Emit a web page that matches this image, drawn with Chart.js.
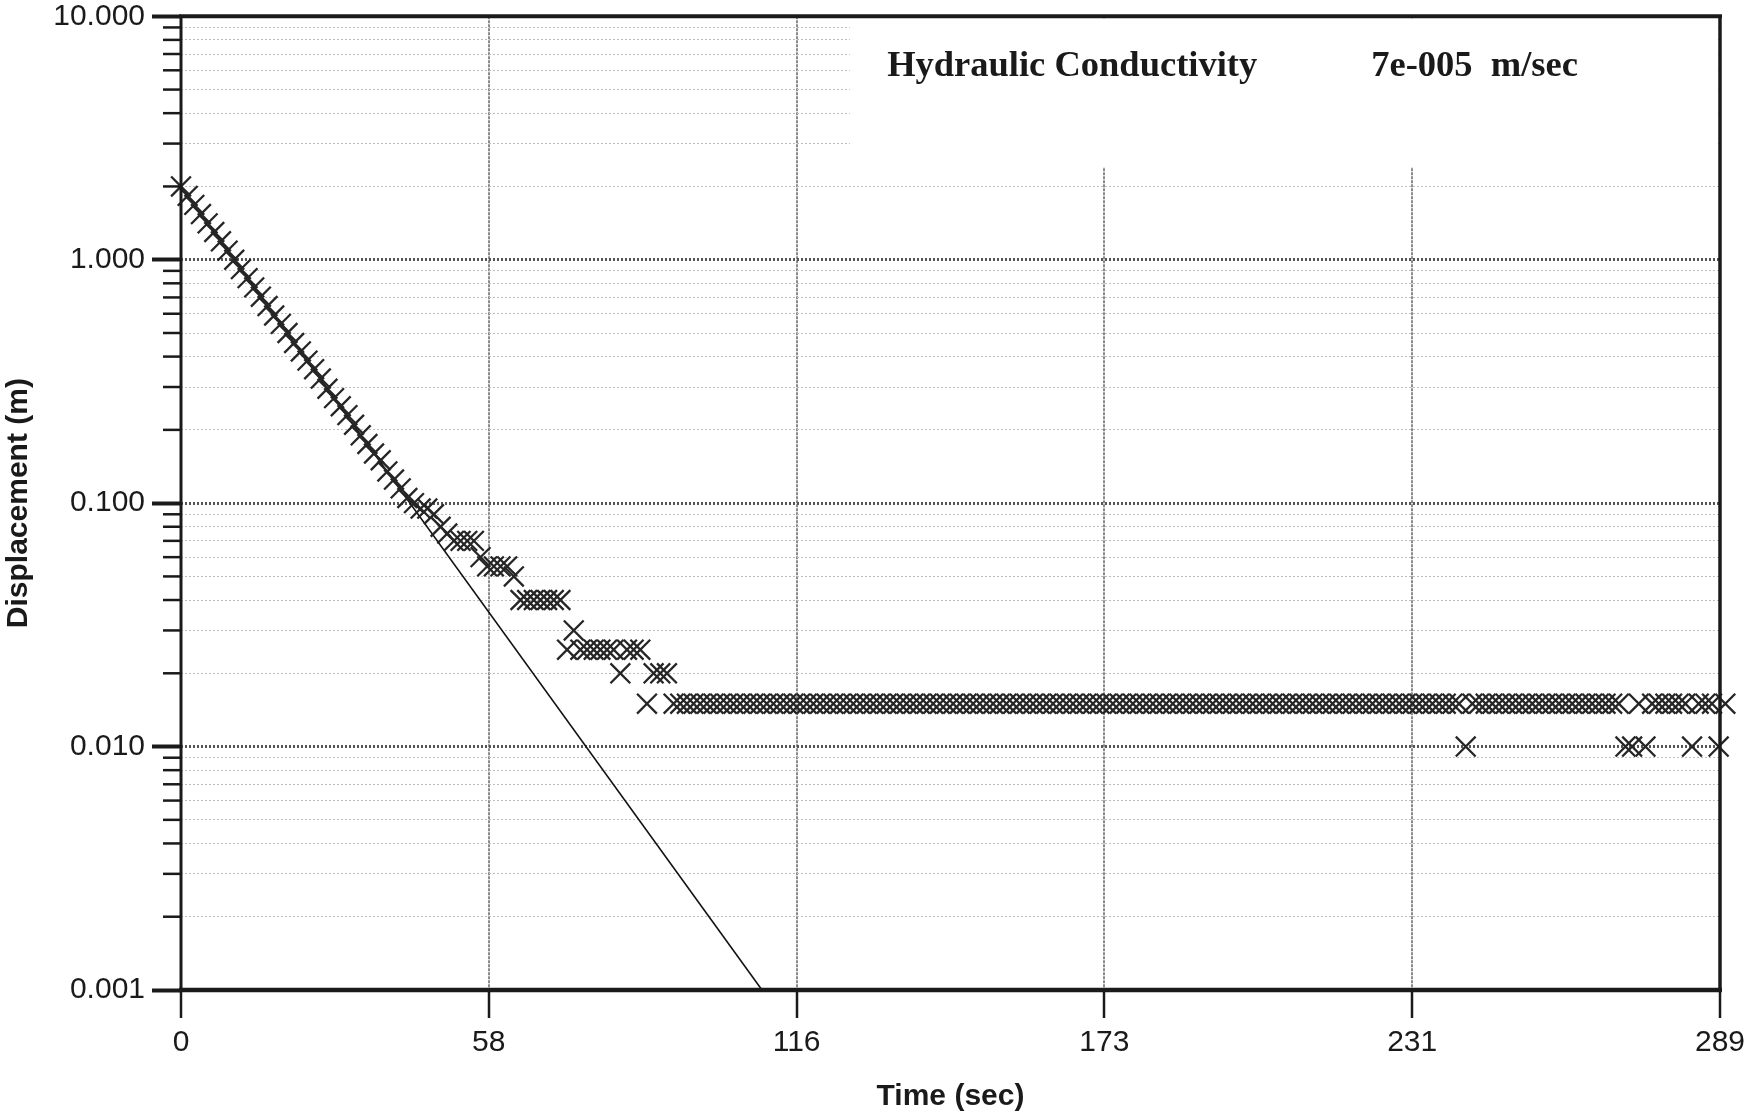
<!DOCTYPE html>
<html>
<head>
<meta charset="utf-8">
<title>Displacement vs Time</title>
<script src="https://cdn.jsdelivr.net/npm/chart.js@4.4.1/dist/chart.umd.min.js"></script>
<style>
  html, body { margin: 0; padding: 0; background: #fff; }
  canvas { display: block; }
</style>
</head>
<body>
<canvas id="chart" width="1752" height="1115"></canvas>
<script>
// logger readings, time in sec
const times = [
  0, 1.25, 2.5, 3.75, 5, 6.25, 7.5, 8.75, 10, 11.25, 12.5, 13.75, 15, 16.25, 17.5, 18.75,
  20, 21.25, 22.5, 23.75, 25, 26.25, 27.5, 28.75, 30, 31.25, 32.5, 33.75, 35, 36.25, 37.5, 38.75,
  40, 41.25, 42.5, 43.75, 45, 46.25, 47.5, 48.75, 50, 51.25, 52.5, 53.75, 55, 56.25, 57.5, 58.75,
  60, 61.25, 62.5, 63.75, 65, 66.25, 67.5, 68.75, 70, 71.25, 72.5, 73.75, 75, 76.25, 77.5, 78.75,
  80, 81.25, 82.5, 83.75, 85, 86.25, 87.5, 88.75, 90, 91.25, 92.5, 93.75, 95, 96.25, 97.5, 98.75,
  100, 101.25, 102.5, 103.75, 105, 106.25, 107.5, 108.75, 110, 111.25, 112.5, 113.75, 115, 116.25, 117.5, 118.75,
  120, 121.25, 122.5, 123.75, 125, 126.25, 127.5, 128.75, 130, 131.25, 132.5, 133.75, 135, 136.25, 137.5, 138.75,
  140, 141.25, 142.5, 143.75, 145, 146.25, 147.5, 148.75, 150, 151.25, 152.5, 153.75, 155, 156.25, 157.5, 158.75,
  160, 161.25, 162.5, 163.75, 165, 166.25, 167.5, 168.75, 170, 171.25, 172.5, 173.75, 175, 176.25, 177.5, 178.75,
  180, 181.25, 182.5, 183.75, 185, 186.25, 187.5, 188.75, 190, 191.25, 192.5, 193.75, 195, 196.25, 197.5, 198.75,
  200, 201.25, 202.5, 203.75, 205, 206.25, 207.5, 208.75, 210, 211.25, 212.5, 213.75, 215, 216.25, 217.5, 218.75,
  220, 221.25, 222.5, 223.75, 225, 226.25, 227.5, 228.75, 230, 231.25, 232.5, 233.75, 235, 236.25, 237.5, 238.75,
  240, 241.25, 242.5, 243.75, 245, 246.25, 247.5, 248.75, 250, 251.25, 252.5, 253.75, 255, 256.25, 257.5, 258.75,
  260, 261.25, 262.5, 263.75, 265, 266.25, 267.5, 268.75, 270, 271.25, 272.5, 273.75, 275, 276.25, 277.5, 278.75,
  280, 281.25, 282.5, 283.75, 285, 286.25, 287.5, 288.75, 290, 291.25, 292.5, 293.75
];

// displacement (m)
const displacement = [
  2.00, 1.83, 1.68, 1.54, 1.41, 1.30, 1.19, 1.09, 1.00, 0.915, 0.84, 0.77, 0.705, 0.645, 0.59, 0.545,
  0.50, 0.455, 0.42, 0.385, 0.355, 0.325, 0.295, 0.27, 0.25, 0.23, 0.21, 0.19, 0.175, 0.16, 0.15, 0.135,
  0.125, 0.115, 0.105, 0.10, 0.095, 0.095, 0.09, 0.08, 0.075, 0.07, 0.07, 0.07, 0.07, 0.06, 0.055, 0.055,
  0.055, 0.055, 0.05, 0.04, 0.04, 0.04, 0.04, 0.04, 0.04, 0.04, 0.025, 0.03, 0.025, 0.025, 0.025, 0.025,
  0.025, 0.025, 0.02, 0.025, 0.025, 0.025, 0.015, 0.02, 0.02, 0.02, 0.015, 0.015, 0.015, 0.015, 0.015, 0.015,
  0.015, 0.015, 0.015, 0.015, 0.015, 0.015, 0.015, 0.015, 0.015, 0.015, 0.015, 0.015, 0.015, 0.015, 0.015, 0.015,
  0.015, 0.015, 0.015, 0.015, 0.015, 0.015, 0.015, 0.015, 0.015, 0.015, 0.015, 0.015, 0.015, 0.015, 0.015, 0.015,
  0.015, 0.015, 0.015, 0.015, 0.015, 0.015, 0.015, 0.015, 0.015, 0.015, 0.015, 0.015, 0.015, 0.015, 0.015, 0.015,
  0.015, 0.015, 0.015, 0.015, 0.015, 0.015, 0.015, 0.015, 0.015, 0.015, 0.015, 0.015, 0.015, 0.015, 0.015, 0.015,
  0.015, 0.015, 0.015, 0.015, 0.015, 0.015, 0.015, 0.015, 0.015, 0.015, 0.015, 0.015, 0.015, 0.015, 0.015, 0.015,
  0.015, 0.015, 0.015, 0.015, 0.015, 0.015, 0.015, 0.015, 0.015, 0.015, 0.015, 0.015, 0.015, 0.015, 0.015, 0.015,
  0.015, 0.015, 0.015, 0.015, 0.015, 0.015, 0.015, 0.015, 0.015, 0.015, 0.015, 0.015, 0.015, 0.015, 0.015, 0.015,
  0.015, 0.01, 0.015, 0.015, 0.015, 0.015, 0.015, 0.015, 0.015, 0.015, 0.015, 0.015, 0.015, 0.015, 0.015, 0.015,
  0.015, 0.015, 0.015, 0.015, 0.015, 0.015, 0.015, 0.015, 0.015, 0.01, 0.01, 0.015, 0.01, 0.015, 0.015, 0.015,
  0.015, 0.015, 0.015, 0.01, 0.015, 0.015, 0.015, 0.01, 0.015, 0.015, 0.01, 0.015
];

// fitted straight line (end points)
const fitTimes = [0, 109.1];
const fitDisplacement = [2.0, 0.001];

const xTickVals = [0, 57.8, 115.6, 173.4, 231.2, 289];
const xTickLabels = ['0', '58', '116', '173', '231', '289'];
const yMajorVals = [0.001, 0.01, 0.1, 1, 10];
const yTickLabels = ['0.001', '0.010', '0.100', '1.000', '10.000'];
const yMinorVals = [
  0.002, 0.003, 0.004, 0.005, 0.006, 0.007, 0.008, 0.009,
  0.02, 0.03, 0.04, 0.05, 0.06, 0.07, 0.08, 0.09,
  0.2, 0.3, 0.4, 0.5, 0.6, 0.7, 0.8, 0.9,
  2, 3, 4, 5, 6, 7, 8, 9
];

const kLabel = 'Hydraulic Conductivity';
const kValue = '7e-005  m/sec';

const INK = '#1a1a1a';
const SANS = '"Liberation Sans", Arial, sans-serif';
const isMajor = v => yMajorVals.includes(v);

// minor y ticks, x tick labels, plot frame and the K annotation box
const framePlugin = {
  id: 'frame',
  beforeDatasetsDraw(chart) {
    const { ctx, chartArea: a, scales: { x, y } } = chart;
    const bx = x.getPixelForValue(125.6);
    const by = y.getPixelForValue(2.4);
    ctx.save();
    ctx.fillStyle = '#fff';
    ctx.fillRect(bx, a.top + 2, a.right - bx - 2, by - a.top - 2);
    ctx.restore();
  },
  afterDraw(chart) {
    const { ctx, chartArea: a, scales: { x, y } } = chart;
    ctx.save();
    ctx.strokeStyle = INK;
    ctx.lineWidth = 2.5;
    yMinorVals.forEach(v => {
      const py = y.getPixelForValue(v);
      ctx.beginPath(); ctx.moveTo(a.left - 18, py); ctx.lineTo(a.left, py); ctx.stroke();
    });
    const side = (w, x1, y1, x2, y2) => {
      ctx.lineWidth = w;
      ctx.beginPath(); ctx.moveTo(x1, y1); ctx.lineTo(x2, y2); ctx.stroke();
    };
    side(4, a.left - 2, a.top, a.right + 2, a.top);
    side(4.5, a.left - 2, a.bottom, a.right + 2, a.bottom);
    side(3, a.left, a.top, a.left, a.bottom);
    side(3.5, a.right, a.top, a.right, a.bottom);

    // x tick labels
    ctx.fillStyle = INK;
    ctx.font = '30px ' + SANS;
    ctx.textAlign = 'center';
    ctx.textBaseline = 'middle';
    xTickVals.forEach((v, i) => ctx.fillText(xTickLabels[i], x.getPixelForValue(v), a.bottom + 53));

    ctx.font = 'bold 36.5px "Liberation Serif", "Times New Roman", serif';
    ctx.textBaseline = 'alphabetic';
    ctx.textAlign = 'left';
    const ty = y.getPixelForValue(5.7);
    ctx.fillText(kLabel, x.getPixelForValue(132.6), ty);
    ctx.fillText(kValue, x.getPixelForValue(223.5), ty);
    ctx.restore();
  }
};

const obsPoints = times.map((t, i) => ({ x: t, y: displacement[i] }));
const fitPoints = fitTimes.map((t, i) => ({ x: t, y: fitDisplacement[i] }));

new Chart(document.getElementById('chart'), {
  type: 'scatter',
  data: {
    datasets: [
      {
        label: 'Observed',
        data: obsPoints,
        pointStyle: 'crossRot',
        pointRadius: 14,
        pointBorderWidth: 2.3,
        borderColor: '#262626',
        backgroundColor: 'rgba(0,0,0,0)',
        clip: false
      },
      {
        label: 'Fit',
        type: 'line',
        data: fitPoints,
        borderColor: '#111',
        borderWidth: 1.6,
        pointRadius: 0,
        fill: false
      }
    ]
  },
  options: {
    responsive: false,
    animation: false,
    layout: { padding: { left: 0, top: 15, right: 32, bottom: 0 } },
    plugins: { legend: { display: false }, tooltip: { enabled: false } },
    scales: {
      x: {
        type: 'linear',
        min: 0,
        max: 289,
        afterBuildTicks: s => { s.ticks = xTickVals.map(v => ({ value: v })); },
        afterFit: s => { s.height = 125; },
        ticks: { display: false, autoSkip: false, maxRotation: 0 },
        grid: {
          color: '#8a8a8a',
          lineWidth: 2,
          tickColor: INK,
          tickWidth: 2.5,
          tickLength: 28
        },
        border: { display: false, dash: [3, 1] },
        title: {
          display: true,
          text: 'Time (sec)',
          color: INK,
          font: { family: SANS, size: 30, weight: 'bold' },
          padding: { top: 0, bottom: 0 }
        }
      },
      y: {
        type: 'logarithmic',
        min: 0.001,
        max: 10,
        afterBuildTicks: s => {
          s.ticks = yMinorVals.concat(yMajorVals).sort((a, b) => a - b)
            .map(v => ({ value: v, major: isMajor(v) }));
        },
        afterFit: s => { s.width = 181; },
        ticks: {
          autoSkip: false,
          padding: 7,
          color: INK,
          font: { family: SANS, size: 30, lineHeight: 0.5 },
          callback: v => {
            const i = yMajorVals.indexOf(v);
            return i >= 0 ? yTickLabels[i] : '';
          }
        },
        grid: {
          color: c => (c.tick && isMajor(c.tick.value)) ? '#555' : '#bdbdbd',
          lineWidth: c => (c.tick && isMajor(c.tick.value)) ? 3 : 1,
          tickColor: c => (c.tick && isMajor(c.tick.value)) ? INK : 'rgba(0,0,0,0)',
          tickWidth: 4,
          tickLength: 29
        },
        border: { display: false, dash: [2, 2] },
        title: {
          display: true,
          text: 'Displacement (m)',
          color: INK,
          font: { family: SANS, size: 30, weight: 'bold' },
          padding: { top: 1, bottom: 0 }
        }
      }
    }
  },
  plugins: [framePlugin]
});
</script>
</body>
</html>
